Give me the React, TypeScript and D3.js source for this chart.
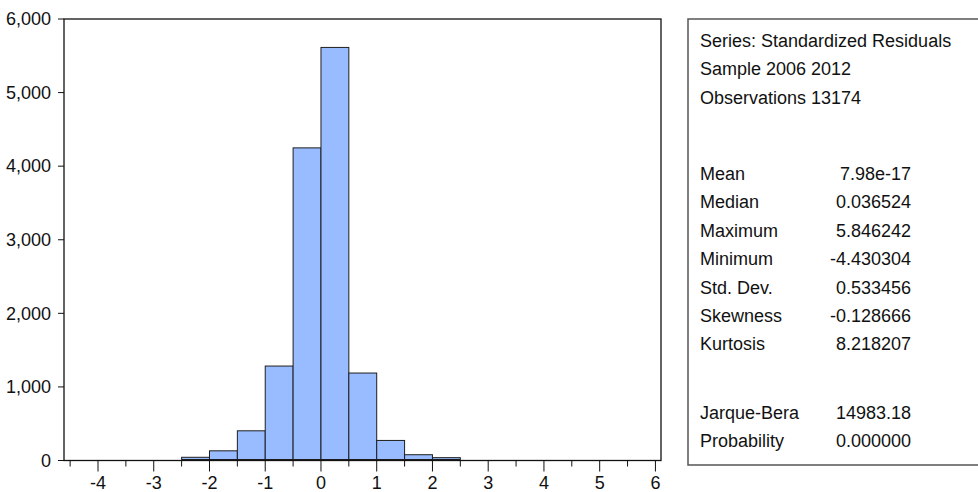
import React, { useEffect, useRef } from 'react';
import * as d3 from 'd3';

// histogram bins (lower edge, width 0.5) and their counts
const binStarts = [-4.5, -4, -3.5, -3, -2.5, -2, -1.5, -1, -0.5, 0, 0.5, 1, 1.5, 2, 2.5, 3, 3.5, 4, 4.5, 5, 5.5];
const binCounts = [1, 1, 0, 2, 30, 118, 390, 1270, 4235, 5600, 1175, 259, 65, 25, 2, 0, 0, 0, 0, 0, 1];
const binWidth = 0.5;

const xTicks = [-4, -3, -2, -1, 0, 1, 2, 3, 4, 5, 6];
const xMinorTicks = [-4.5, -3.5, -2.5, -1.5, -0.5, 0.5, 1.5, 2.5, 3.5, 4.5, 5.5];
const yTicks = [0, 1000, 2000, 3000, 4000, 5000, 6000];

const headerLines = ['Series: Standardized Residuals', 'Sample 2006 2012', 'Observations 13174'];
const statNames = ['Mean', 'Median', 'Maximum', 'Minimum', 'Std. Dev.', 'Skewness', 'Kurtosis'];
const statValues = ['7.98e-17', '0.036524', '5.846242', '-4.430304', '0.533456', '-0.128666', '8.218207'];
const testNames = ['Jarque-Bera', 'Probability'];
const testValues = ['14983.18', '0.000000'];

const FONT = '"Liberation Sans", Arial, sans-serif';

const App = () => {
  const chartRef = useRef<HTMLDivElement | null>(null);

  useEffect(() => {
    d3.select(chartRef.current).selectAll('*').remove();

    const svg = d3
      .select(chartRef.current)
      .append('svg')
      .attr('width', 978)
      .attr('height', 492)
      .style('position', 'absolute')
      .style('left', 0)
      .style('top', 0)
      .style('background', '#fff')
      .style('font-family', FONT);

    const left = 64, right = 661, top = 19, bottom = 460.5;

    const x = d3.scaleLinear().domain([-4.61, 6.1]).range([left, right]);
    const y = d3.scaleLinear().domain([0, 6000]).range([bottom, top]);

    // bars (counts too small to show a pixel are hidden under the axis)
    svg
      .append('g')
      .selectAll('rect')
      .data(binCounts.map((c, i) => ({ x0: binStarts[i], c })).filter((d) => y(0) - y(d.c) >= 1))
      .enter()
      .append('rect')
      .attr('x', (d) => x(d.x0))
      .attr('y', (d) => y(d.c) - 1)
      .attr('width', (d) => x(d.x0 + binWidth) - x(d.x0))
      .attr('height', (d) => y(0) - y(d.c))
      .attr('fill', '#99bbff')
      .attr('stroke', '#1e1e1e')
      .attr('stroke-width', 1);

    // frame
    svg
      .append('rect')
      .attr('x', left)
      .attr('y', top)
      .attr('width', right - left)
      .attr('height', bottom - top)
      .attr('fill', 'none')
      .attr('stroke', '#111')
      .attr('stroke-width', 1.3);

    // y axis ticks + labels
    const yg = svg.append('g');
    yg.selectAll('line')
      .data(yTicks)
      .enter()
      .append('line')
      .attr('x1', left - 6)
      .attr('x2', left)
      .attr('y1', (d) => y(d))
      .attr('y2', (d) => y(d))
      .attr('stroke', '#111');
    yg.selectAll('text')
      .data(yTicks)
      .enter()
      .append('text')
      .attr('x', left - 13)
      .attr('y', (d) => y(d))
      .attr('dy', '0.35em')
      .attr('text-anchor', 'end')
      .attr('font-size', 18)
      .attr('fill', '#111')
      .text((d) => d3.format(',')(d));

    // x axis ticks + labels
    const xg = svg.append('g');
    xg.selectAll('line.major')
      .data(xTicks)
      .enter()
      .append('line')
      .attr('class', 'major')
      .attr('x1', (d) => x(d))
      .attr('x2', (d) => x(d))
      .attr('y1', bottom)
      .attr('y2', bottom + 11)
      .attr('stroke', '#111');
    xg.selectAll('line.minor')
      .data(xMinorTicks)
      .enter()
      .append('line')
      .attr('class', 'minor')
      .attr('x1', (d) => x(d))
      .attr('x2', (d) => x(d))
      .attr('y1', bottom)
      .attr('y2', bottom + 6)
      .attr('stroke', '#111');
    xg.selectAll('text')
      .data(xTicks)
      .enter()
      .append('text')
      .attr('x', (d) => x(d))
      .attr('y', 489)
      .attr('text-anchor', 'middle')
      .attr('font-size', 18)
      .attr('fill', '#111')
      .text((d) => String(d));

    // stats box
    const box = svg.append('g');
    box
      .append('rect')
      .attr('x', 688)
      .attr('y', 19)
      .attr('width', 320)
      .attr('height', 446)
      .attr('fill', 'none')
      .attr('stroke', '#555')
      .attr('stroke-width', 1.5);

    const labelX = 700, valueX = 911;
    const lh = 28.4;

    headerLines.forEach((t, i) => {
      box.append('text').attr('x', labelX).attr('y', 47 + i * lh).attr('font-size', 18).attr('fill', '#111').text(t);
    });
    statNames.forEach((t, i) => {
      const yy = 180 + i * lh;
      box.append('text').attr('x', labelX).attr('y', yy).attr('font-size', 18).attr('fill', '#111').text(t);
      box.append('text').attr('x', valueX).attr('y', yy).attr('text-anchor', 'end').attr('font-size', 18).attr('fill', '#111').text(statValues[i]);
    });
    testNames.forEach((t, i) => {
      const yy = 419 + i * lh;
      box.append('text').attr('x', labelX).attr('y', yy).attr('font-size', 18).attr('fill', '#111').text(t);
      box.append('text').attr('x', valueX).attr('y', yy).attr('text-anchor', 'end').attr('font-size', 18).attr('fill', '#111').text(testValues[i]);
    });
  }, []);

  return <div ref={chartRef}></div>;
};

export default App;
